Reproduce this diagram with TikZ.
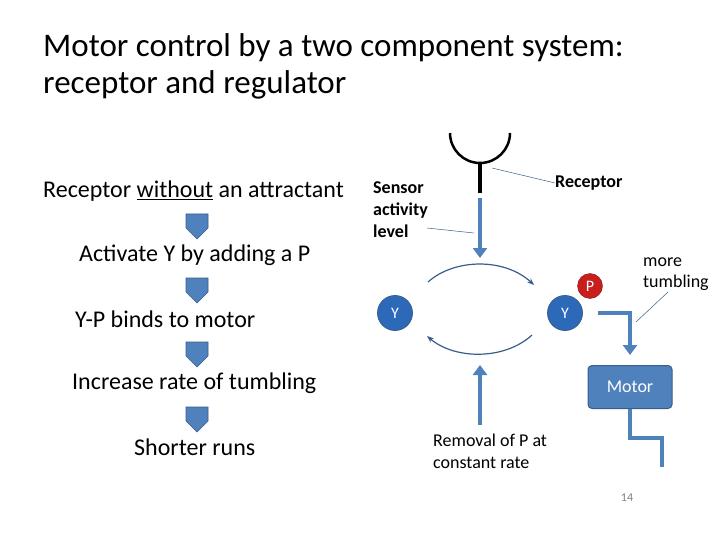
\documentclass[tikz,border=0pt]{standalone}
\usepackage{fontspec}
\setmainfont{Carlito}
\usetikzlibrary{arrows.meta,shapes.arrows}
\definecolor{sb}{RGB}{79,129,189}
\definecolor{sbd}{RGB}{56,93,138}
\definecolor{yb}{RGB}{45,105,185}
\definecolor{pr}{RGB}{200,30,30}
\begin{document}
\begin{tikzpicture}[x=1pt,y=-1pt,
  lt/.style={font=\fontsize{24}{28}\selectfont,anchor=west,inner sep=0pt},
  bigarrow/.style={single arrow,draw=sbd,fill=sb,minimum width=22pt,single arrow head extend=0pt,single arrow tip angle=90,minimum height=25pt,inner sep=0pt,shape border rotate=270,line width=0.6pt},
  thick blue/.style={sb,line width=4pt},
  lab/.style={font=\fontsize{18}{22}\selectfont,anchor=west,align=left,inner sep=0pt},
  thin/.style={sbd,line width=0.5pt},
  yball/.style={circle,minimum size=35pt,inner sep=0pt,text=white,font=\fontsize{16}{18}\selectfont,fill=yb,draw=sbd,line width=0.8pt},
  flow/.style={sbd,line width=1.2pt,-{Stealth[length=7pt]}}]
\useasboundingbox (0,0) rectangle (720,540);
\node[anchor=west,align=left,inner sep=0pt,font=\fontsize{33}{37}\selectfont] (title) at (43,66) {Motor control by a two component system:\\receptor and regulator};
\node[lt] (t1) at (43,191) {Receptor \underline{without} an attractant};
\node[lt] (t2) at (79,255) {Activate Y by adding a P};
\node[lt] (t3) at (75,319) {Y-P binds to motor};
\node[lt] (t4) at (72,383) {Increase rate of tumbling};
\node[lt] (t5) at (134,447) {Shorter runs};
\foreach \y/\n in {221/a1,285/a2,349/a3,414/a4}
  \node[bigarrow] (\n) at (197,\y) {};
% receptor
\draw[line width=2.5pt] (450,133) arc[start angle=180,end angle=0,radius=30];
\coordinate (stemtop) at (480,163);
\coordinate (stembot) at (480,193);
\draw[line width=4pt] (stemtop) -- (stembot);
\coordinate (sa1) at (480,198);
\coordinate (sa2) at (480,258);
\draw[thick blue,-{Triangle[length=10pt,width=14pt]}] (sa1) -- (sa2);
\node[lab] (rec) at (555,183) {\textbf{Receptor}};
\coordinate (recp) at (492,168);
\draw[thin] (recp) -- (rec.west);
\node[lab] (sens) at (373,210) {\textbf{Sensor}\\\textbf{activity}\\\textbf{level}};
\coordinate (sensp) at (474,233);
\draw[thin] (427,228) -- (sensp);
% Y
\node[yball] (y1) at (395,313) {Y};
\node[yball] (y2) at (565,313) {Y};
\node[circle,minimum size=25pt,inner sep=0pt,fill=pr,draw=pr!70!black,text=white,font=\fontsize{16}{18}\selectfont] (p) at (590,286) {P};
\coordinate (u1) at (428,282); \coordinate (u2) at (534,285);
\coordinate (l1) at (532,335); \coordinate (l2) at (427,336);
\draw[flow] (u1) .. controls (455,258) and (505,258) .. (u2);
\draw[flow] (l1) .. controls (505,360) and (455,360) .. (l2);
\coordinate (ra1) at (480,425); \coordinate (ra2) at (480,365);
\draw[thick blue,-{Triangle[length=10pt,width=14pt]}] (ra1) -- (ra2);
\node[lab] (rem) at (433,451) {Removal of P at\\constant rate};
% motor
\node[draw=sbd,fill=sb,rounded corners=4pt,minimum width=84pt,minimum height=43pt,text=white,font=\fontsize{18}{20}\selectfont,line width=1pt] (motor) at (630,387) {Motor};
\coordinate (m1) at (598,313);
\coordinate (m2) at (630,355);
\draw[thick blue,-{Triangle[length=10pt,width=14pt]}] (m1) -| (m2);
\coordinate (o1) at (662,467);
\draw[thick blue] (motor.south) -- (630,438) -| (o1);
\node[lab,font=\fontsize{18}{21}\selectfont] (more) at (643,274) {more\\tumbling};
\coordinate (morep) at (636,322);
\draw[thin] (morep) -- (668,292);
\node[font=\fontsize{12}{13}\selectfont,text=gray] (pg) at (627,498) {14};
\end{tikzpicture}
\end{document}
